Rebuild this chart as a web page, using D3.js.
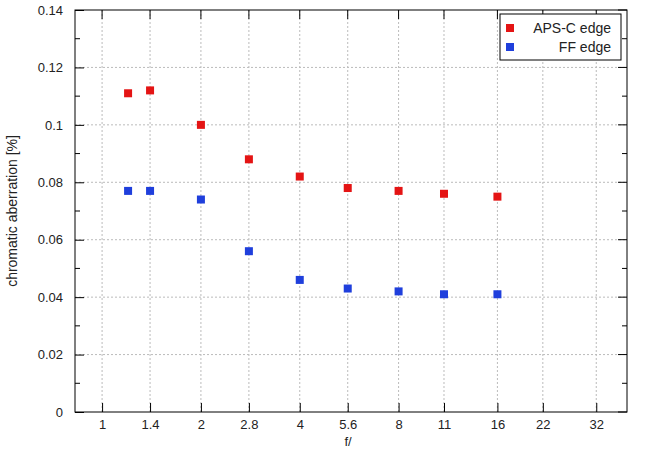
<!DOCTYPE html>
<html><head><meta charset="utf-8">
<script src="https://cdn.jsdelivr.net/npm/d3@7"></script>
<style>body{margin:0;background:#fff}text{font-family:"Liberation Sans",Arial,sans-serif;font-size:13px;fill:#222}</style>
</head><body><svg id="c" width="650" height="450"></svg>
<script>
const xTicks=[1,1.4,2,2.8,4,5.6,8,11,16,22,32];
const fstops=[1.2,1.4,2,2.8,4,5.6,8,11,16];
const apsc=[0.111,0.112,0.100,0.088,0.082,0.078,0.077,0.076,0.075];
const ff=[0.077,0.077,0.074,0.056,0.046,0.043,0.042,0.041,0.041];
const yTicks=[0,0.02,0.04,0.06,0.08,0.1,0.12,0.14];
const L=75,R=627,T=10,B=412;
const svg=d3.select("#c");
const x=d3.scaleLog().domain([0.827,39.7]).range([L,R]);
const y=d3.scaleLinear().domain([0,0.14]).range([B,T]);
const g=svg.append("g");
g.selectAll(".gx").data(xTicks).join("line").attr("x1",d=>x(d)).attr("x2",d=>x(d)).attr("y1",T).attr("y2",B).attr("stroke","#bbb").attr("stroke-dasharray","2,2");
g.selectAll(".gy").data(yTicks.slice(1,-1)).join("line").attr("y1",d=>y(d)).attr("y2",d=>y(d)).attr("x1",L).attr("x2",R).attr("stroke","#bbb").attr("stroke-dasharray","2,2");
const ax=svg.append("g").attr("transform",`translate(0,${B})`).call(d3.axisBottom(x).tickValues(xTicks).tickFormat(d=>d).tickSizeInner(-9).tickSizeOuter(0).tickPadding(8));
const ay=svg.append("g").attr("transform",`translate(${L},0)`).call(d3.axisLeft(y).tickValues(yTicks).tickFormat(d=>d===0?"0":d3.format("")(+d.toFixed(2))).tickSizeInner(-9).tickSizeOuter(0).tickPadding(12));
const minor=d3.range(0.01,0.14,0.02);
svg.append("g").selectAll("line").data(minor).join("line").attr("x1",L).attr("x2",L+5).attr("y1",d=>y(d)).attr("y2",d=>y(d)).attr("stroke","#000");
svg.append("g").selectAll("line").data(yTicks).join("line").attr("x1",R).attr("x2",R-9).attr("y1",d=>y(d)).attr("y2",d=>y(d)).attr("stroke","#000");
svg.append("g").selectAll("line").data(minor).join("line").attr("x1",R).attr("x2",R-5).attr("y1",d=>y(d)).attr("y2",d=>y(d)).attr("stroke","#000");
svg.append("g").selectAll("line").data(xTicks).join("line").attr("x1",d=>x(d)).attr("x2",d=>x(d)).attr("y1",T).attr("y2",T+9).attr("stroke","#000");
[ax,ay].forEach(a=>{a.select(".domain").remove();a.selectAll("line").attr("stroke","#000");a.selectAll("text").style("font-size","13px").attr("fill","#222")});
svg.append("rect").attr("x",L).attr("y",T).attr("width",R-L).attr("height",B-T).attr("fill","none").attr("stroke","#000");
const s=8;
svg.append("g").selectAll("rect").data(fstops.map((f,i)=>[f,apsc[i]])).join("rect").attr("x",d=>x(d[0])-s/2).attr("y",d=>y(d[1])-s/2).attr("width",s).attr("height",s).attr("fill","#e41414");
svg.append("g").selectAll("rect").data(fstops.map((f,i)=>[f,ff[i]])).join("rect").attr("x",d=>x(d[0])-s/2).attr("y",d=>y(d[1])-s/2).attr("width",s).attr("height",s).attr("fill","#1f3fdc");
svg.append("text").attr("x",348).attr("y",446).attr("text-anchor","middle").text("f/");
svg.append("text").attr("transform","translate(17,211) rotate(-90)").attr("text-anchor","middle").style("font-size","14px").text("chromatic  aberration [%]");
const lg=svg.append("g");
lg.append("rect").attr("x",500).attr("y",14).attr("width",121).attr("height",46).attr("fill","#fff").attr("stroke","#000");
[["APS-C edge","#e41414",28],["FF edge","#1f3fdc",47]].forEach(([t,c,yy])=>{
 lg.append("rect").attr("x",510-s/2).attr("y",yy-s/2).attr("width",s).attr("height",s).attr("fill",c);
 lg.append("text").attr("x",611).attr("y",yy+5).attr("text-anchor","end").style("font-size","14px").text(t);
});
</script></body></html>
